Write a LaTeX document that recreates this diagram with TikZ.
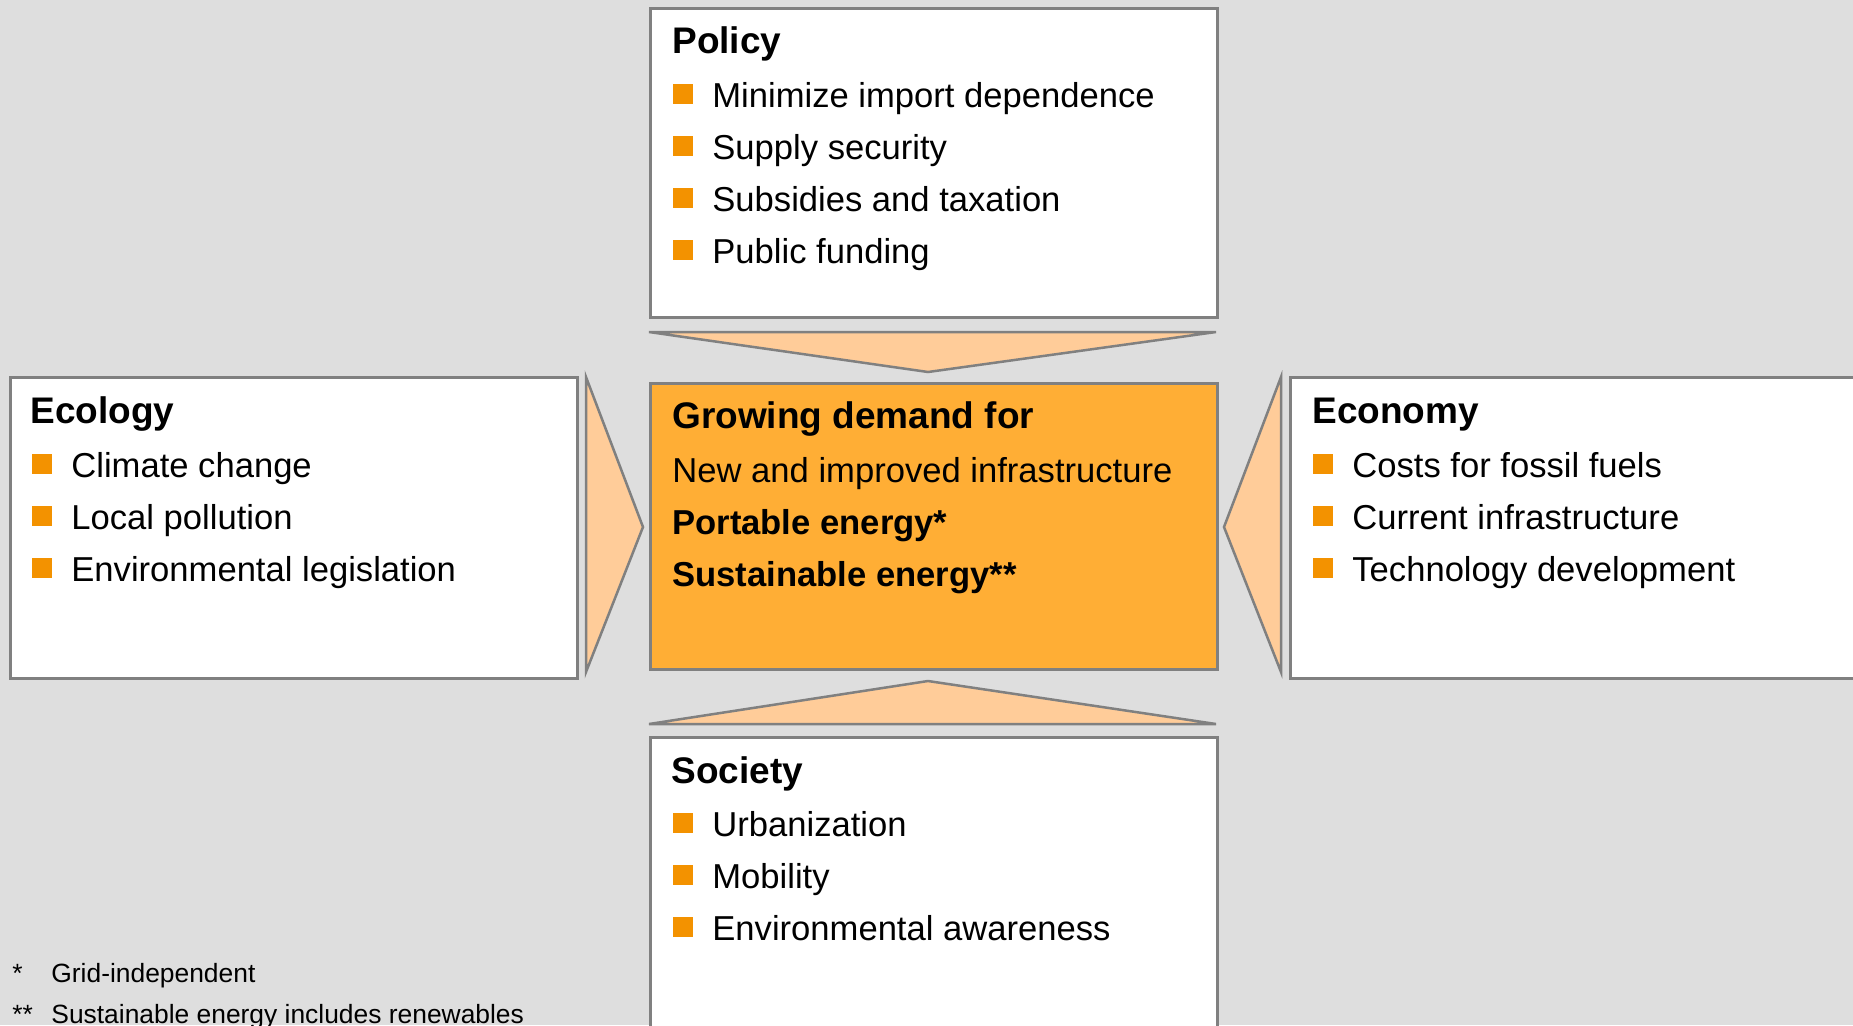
\documentclass[tikz,border=0pt]{standalone}
\usepackage{fontspec}
\setmainfont{Liberation Sans}
\usetikzlibrary{calc}

\definecolor{bggray}{HTML}{DEDEDE}
\definecolor{framegray}{HTML}{808080}
\definecolor{demandorange}{HTML}{FFAE35}
\definecolor{arrowpeach}{HTML}{FFCC99}
\definecolor{bulletorange}{HTML}{F39200}

\tikzset{
  infobox/.style={draw=framegray, line width=1.25pt, fill=white, anchor=north west, inner sep=0pt},
  pointer/.style={draw=framegray, line width=1.25pt, fill=arrowpeach},
  heading/.style={anchor=base west, inner sep=0pt, font=\fontsize{18.5}{22}\selectfont\bfseries},
  itemtext/.style={anchor=base west, inner sep=0pt, font=\fontsize{17.3}{21}\selectfont},
  bolditem/.style={itemtext, font=\fontsize{17.3}{21}\selectfont\bfseries},
  bullet/.style={anchor=south west, fill=bulletorange, minimum size=10pt, inner sep=0pt},
  note/.style={anchor=base west, inner sep=0pt, font=\fontsize{13.2}{16}\selectfont}
}

\begin{document}
\begin{tikzpicture}[x=0.5pt, y=-0.5pt]
  \useasboundingbox (0,0) rectangle (1853,1025);
  \clip (0,0) rectangle (1853,1025);
  \fill[bggray] (0,0) rectangle (1853,1025);

  % policy, top
  \node[infobox, minimum width=283.5pt, minimum height=154.5pt] (policy) at (649,7) {};
  \node[heading] (policyhead) at (672,53) {Policy};
  \foreach \txt [count=\i from 0] in {Minimize import dependence, Supply security, Subsidies and taxation, Public funding}{
    \node[bullet] (policymark\i) at (673,{104+52*\i}) {};
    \node[itemtext] (policyitem\i) at (712,{107+52*\i}) {\txt};
  }

  % ecology, left
  \node[infobox, minimum width=283.5pt, minimum height=150.5pt] (ecology) at (9,376) {};
  \node[heading] (ecologyhead) at (30,423) {Ecology};
  \foreach \txt [count=\i from 0] in {Climate change, Local pollution, Environmental legislation}{
    \node[bullet] (ecologymark\i) at (32,{474+52*\i}) {};
    \node[itemtext] (ecologyitem\i) at (71,{477+52*\i}) {\txt};
  }

  % economy, right (runs off the page)
  \node[infobox, minimum width=300pt, minimum height=150.5pt] (economy) at (1289,376) {};
  \node[heading] (economyhead) at (1312,423) {Economy};
  \foreach \txt [count=\i from 0] in {Costs for fossil fuels, Current infrastructure, Technology development}{
    \node[bullet] (economymark\i) at (1313,{474+52*\i}) {};
    \node[itemtext] (economyitem\i) at (1352,{477+52*\i}) {\txt};
  }

  % society, bottom (runs off the page)
  \node[infobox, minimum width=283.5pt, minimum height=152pt] (society) at (649,736) {};
  \node[heading] (societyhead) at (671,783) {Society};
  \foreach \txt [count=\i from 0] in {Urbanization, Mobility, Environmental awareness}{
    \node[bullet] (societymark\i) at (673,{833+52*\i}) {};
    \node[itemtext] (societyitem\i) at (712,{836+52*\i}) {\txt};
  }

  % centre box
  \node[infobox, fill=demandorange, minimum width=283.5pt, minimum height=143pt] (demand) at (649,382) {};
  \node[heading] (demandhead) at (672,428) {Growing demand for};
  \node[itemtext] (demand1) at (672,482) {New and improved infrastructure};
  \node[bolditem] (demand2) at (672,534) {Portable energy*};
  \node[bolditem] (demand3) at (672,586) {Sustainable energy**};

  % wedges pointing at the centre
  \filldraw[pointer] (649,332) -- (1216,332) -- (928,372) -- cycle;
  \filldraw[pointer] (649,724) -- (1216,724) -- (928,681) -- cycle;
  \filldraw[pointer] (586,377) -- (643,527) -- (586,672) -- cycle;
  \filldraw[pointer] (1281,377) -- (1224,527) -- (1281,672) -- cycle;

  % footnotes
  \node[note] (star1) at (12,982) {*};
  \node[note] (note1) at (51,982) {Grid-independent};
  \node[note] (star2) at (12,1023) {**};
  \node[note] (note2) at (51,1023) {Sustainable energy includes renewables};
\end{tikzpicture}
\end{document}
